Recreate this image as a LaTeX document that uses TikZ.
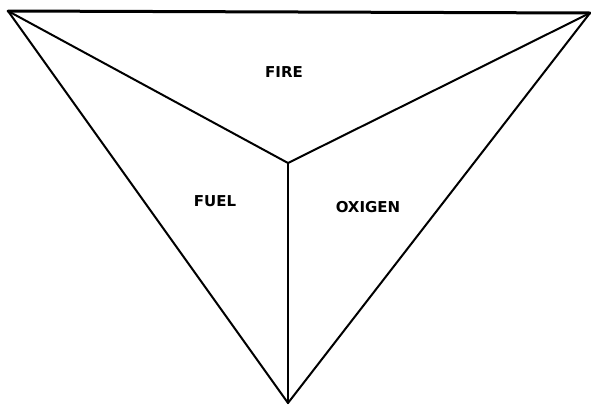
\documentclass[tikz,border=0pt]{standalone}
\usepackage{fontspec}
\setmainfont{DejaVu Sans}
\begin{document}
\begin{tikzpicture}[x=1pt,y=-1pt,
    edge/.style={line width=2pt,black,line cap=round,line join=round},
    facelabel/.style={font=\bfseries\fontsize{15}{17}\selectfont}]
  \useasboundingbox (0,0) rectangle (591,405);
  % Corners of the outer triangle and the inner point
  \coordinate (tl) at (8,11);
  \coordinate (tr) at (590,13);
  \coordinate (bot) at (288,403);
  \coordinate (mid) at (288,163);
  % Outer triangle
  \draw[edge] (tr) -- (bot) -- (tl);
  \draw[edge,line width=3pt] (tl) -- (tr);
  % Edges to the inner point
  \draw[edge] (tl) -- (mid);
  \draw[edge] (tr) -- (mid);
  \draw[edge] (bot) -- (mid);
  % Face labels
  \node[facelabel] (fire) at (284,72) {FIRE};
  \node[facelabel] (fuel) at (215,201) {FUEL};
  \node[facelabel] (oxigen) at (368,207) {OXIGEN};
\end{tikzpicture}
\end{document}
